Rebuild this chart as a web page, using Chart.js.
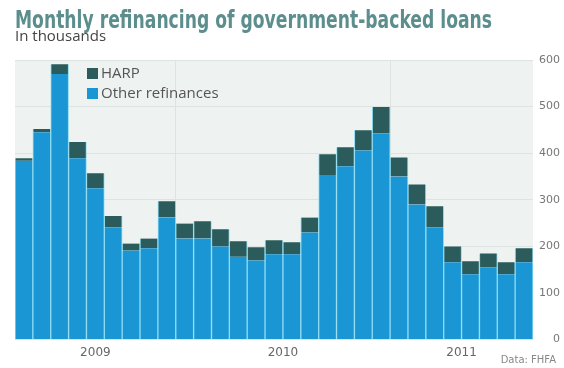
<!DOCTYPE html>
<html>
<head>
<meta charset="utf-8">
<title>Monthly refinancing of government-backed loans</title>
<script src="https://cdn.jsdelivr.net/npm/chart.js@4.4.1/dist/chart.umd.min.js"></script>
<style>
  body { margin: 0; background: #fff; }
  #wrap { width: 564px; height: 368px; }
</style>
</head>
<body>
<div id="wrap"><canvas id="refiChart" width="564" height="368"></canvas></div>
<script>
// months shown, April 2009 through August 2011
const months = [
    'Apr 2009', 'May 2009', 'Jun 2009', 'Jul 2009', 'Aug 2009', 'Sep 2009', 'Oct 2009', 'Nov 2009', 'Dec 2009',
    'Jan 2010', 'Feb 2010', 'Mar 2010', 'Apr 2010', 'May 2010', 'Jun 2010', 'Jul 2010', 'Aug 2010', 'Sep 2010',
    'Oct 2010', 'Nov 2010', 'Dec 2010',
    'Jan 2011', 'Feb 2011', 'Mar 2011', 'Apr 2011', 'May 2011', 'Jun 2011', 'Jul 2011', 'Aug 2011'
];

// thousands of loans
const otherRefis = [384, 445, 570, 389, 325, 241, 191, 196, 262, 217, 217, 200, 178, 170, 183,
                    183, 230, 353, 372, 406, 443, 350, 290, 241, 166, 140, 155, 140, 166];
const harpRefis = [5, 7, 21, 35, 32, 24, 15, 21, 35, 32, 37, 37, 33, 28, 30,
                   26, 32, 45, 41, 43, 56, 41, 43, 45, 34, 28, 30, 26, 30];

const yearLabels = ['2009', '2010', '2011'];
const yTicks = [0, 100, 200, 300, 400, 500, 600];

const chartTitle = 'Monthly refinancing of government-backed loans';

// month index -> year, used to put each year label in the middle of its months
function yearOf(i) { return months[i].split(' ')[1]; }

const yearCenters = yearLabels.map(y => {
    const idx = months.map((m, i) => i).filter(i => yearOf(i) === y);
    return (idx[0] + idx[idx.length - 1]) / 2;
});
const yearBreaks = [];
for (let i = 1; i < months.length; i++) {
    if (yearOf(i) !== yearOf(i - 1)) yearBreaks.push(i - 0.5);
}
const xTickValues = yearCenters.concat(yearBreaks).sort((a, b) => a - b);

const plotBackground = {
    id: 'plotBackground',
    beforeDraw(chart) {
        const a = chart.chartArea;
        const ctx = chart.ctx;
        ctx.save();
        ctx.fillStyle = '#eef2f0';
        ctx.fillRect(a.left, a.top, a.right - a.left, a.bottom - a.top);
        ctx.restore();
    }
};

// the title face in the original is a narrow bold one, so squeeze a condensed bold
const narrowTitle = {
    id: 'narrowTitle',
    afterDraw(chart) {
        const ctx = chart.ctx;
        ctx.save();
        ctx.font = 'bold 24px "DejaVu Sans Condensed", "DejaVu Sans", sans-serif';
        ctx.fillStyle = '#5c8e8d';
        ctx.textBaseline = 'alphabetic';
        const w = ctx.measureText(chartTitle).width;
        ctx.translate(15, 28);
        ctx.scale(477 / w, 1);
        ctx.fillText(chartTitle, 0, 0);
        ctx.restore();
    }
};

// legend sits inside the plot, top left, HARP listed first
const insideLegend = {
    id: 'insideLegend',
    afterDraw(chart) {
        const a = chart.chartArea;
        const ctx = chart.ctx;
        const items = chart.data.datasets.slice().reverse();
        ctx.save();
        ctx.font = '15px "Open Sans", sans-serif';
        ctx.textBaseline = 'middle';
        items.forEach((ds, i) => {
            const x = a.left + 72;
            const y = a.top + 8 + i * 20;
            ctx.fillStyle = ds.backgroundColor;
            ctx.fillRect(x, y, 11, 11);
            ctx.fillStyle = '#555';
            ctx.fillText(ds.label, x + 14, y + 6);
        });
        ctx.restore();
    }
};

const sourceNote = {
    id: 'sourceNote',
    afterDraw(chart) {
        const ctx = chart.ctx;
        ctx.save();
        ctx.font = '10px "DejaVu Sans", sans-serif';
        ctx.fillStyle = '#888';
        ctx.textAlign = 'right';
        ctx.textBaseline = 'middle';
        ctx.fillText('Data: FHFA', chart.width - 8, chart.height - 8);
        ctx.restore();
    }
};

const ctx = document.getElementById('refiChart').getContext('2d');
const chart = new Chart(ctx, {
    type: 'bar',
    data: {
        datasets: [{
            label: 'Other refinances',
            data: otherRefis.map((v, i) => ({ x: i, y: v })),
            backgroundColor: '#1a96d4',
            borderColor: '#8fdcf2',
            borderWidth: { left: 1, right: 1, top: 0, bottom: 0 },
            barPercentage: 1,
            categoryPercentage: 1
        }, {
            label: 'HARP',
            data: harpRefis.map((v, i) => ({ x: i, y: v })),
            backgroundColor: '#2b5c5b',
            borderColor: '#8fdcf2',
            borderWidth: { left: 1, right: 1, top: 0, bottom: 0 },
            barPercentage: 1,
            categoryPercentage: 1
        }]
    },
    options: {
        responsive: false,
        animation: false,
        layout: {
            padding: { left: 15, right: 4, top: 0, bottom: 2 }
        },
        plugins: {
            legend: { display: false },
            tooltip: { enabled: false },
            title: { display: false },
            subtitle: {
                display: true,
                text: 'In thousands',
                align: 'start',
                color: '#444',
                font: { family: '"Open Sans", sans-serif', size: 15, lineHeight: 0.8 },
                padding: { top: 31, bottom: 17 }
            }
        },
        scales: {
            x: {
                type: 'linear',
                stacked: true,
                offset: false,
                min: -0.5,
                max: months.length - 0.5,
                afterBuildTicks(scale) {
                    scale.ticks = xTickValues.map(v => ({ value: v }));
                },
                ticks: {
                    callback: (value) => {
                        const k = yearCenters.indexOf(value);
                        return k >= 0 ? yearLabels[k] : '';
                    },
                    color: '#666',
                    padding: 6,
                    maxRotation: 0,
                    autoSkip: false,
                    font: { family: '"DejaVu Sans", sans-serif', size: 12 }
                },
                grid: {
                    offset: false,
                    drawTicks: false,
                    color: (c) => (c.tick && yearBreaks.includes(c.tick.value)) ? '#dde3e1' : 'rgba(0,0,0,0)'
                },
                border: { display: false }
            },
            y: {
                stacked: true,
                position: 'right',
                min: 0,
                max: 600,
                afterBuildTicks(scale) {
                    scale.ticks = yTicks.map(v => ({ value: v }));
                },
                ticks: {
                    color: '#777',
                    padding: 3,
                    crossAlign: 'far',
                    font: { family: '"DejaVu Sans", sans-serif', size: 11 }
                },
                grid: { color: '#dde3e1', drawTicks: false },
                border: { display: false }
            }
        }
    },
    plugins: [plotBackground, narrowTitle, insideLegend, sourceNote]
});
</script>
</body>
</html>
